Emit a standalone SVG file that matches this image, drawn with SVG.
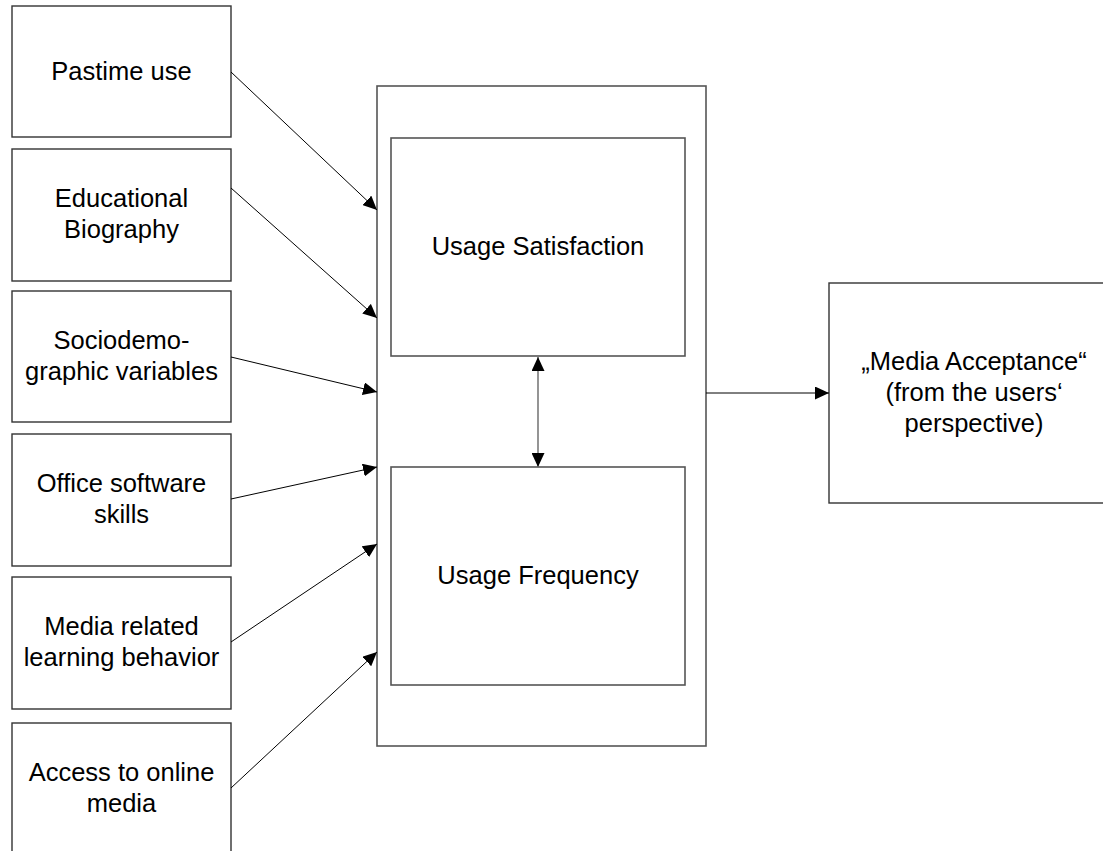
<svg xmlns="http://www.w3.org/2000/svg" width="1103" height="851" viewBox="0 0 1103 851">
  <style>
    .box { fill: #ffffff; stroke: #333333; stroke-width: 1.4; }
    .frame { fill: #ffffff; stroke: #555555; stroke-width: 1.6; }
    .label { font-family: "Liberation Sans", Arial, sans-serif; font-size: 25.5px; fill: #000000; text-anchor: middle; }
    .link { fill: none; stroke: #000000; stroke-width: 1; }
    .link-gray { fill: none; stroke: #7a7a7a; stroke-width: 1.6; }
  </style>
  <defs>
    <marker id="arrow" viewBox="0 0 14 13" refX="14" refY="6.5" markerWidth="14" markerHeight="13" markerUnits="userSpaceOnUse" orient="auto-start-reverse">
      <path d="M0,0 L14,6.5 L0,13 Z" fill="#000000"/>
    </marker>
  </defs>

  <rect width="1103" height="851" fill="#ffffff"/>

  <!-- Influencing factors (left column) -->
  <g id="pastime-use">
    <rect class="box" x="12" y="6" width="219" height="131"/>
    <text class="label" x="121.5" y="80">Pastime use</text>
  </g>
  <g id="educational-biography">
    <rect class="box" x="12" y="149" width="219" height="132"/>
    <text class="label" x="121.5" y="207">Educational</text>
    <text class="label" x="121.5" y="238">Biography</text>
  </g>
  <g id="sociodemographic-variables">
    <rect class="box" x="12" y="291" width="219" height="131"/>
    <text class="label" x="121.5" y="349">Sociodemo-</text>
    <text class="label" x="121.5" y="380">graphic variables</text>
  </g>
  <g id="office-software-skills">
    <rect class="box" x="12" y="434" width="219" height="132"/>
    <text class="label" x="121.5" y="492">Office software</text>
    <text class="label" x="121.5" y="523">skills</text>
  </g>
  <g id="media-learning-behavior">
    <rect class="box" x="12" y="577" width="219" height="132"/>
    <text class="label" x="121.5" y="635">Media related</text>
    <text class="label" x="121.5" y="666">learning behavior</text>
  </g>
  <g id="access-online-media">
    <rect class="box" x="12" y="723" width="219" height="140"/>
    <text class="label" x="121.5" y="781">Access to online</text>
    <text class="label" x="121.5" y="812">media</text>
  </g>

  <!-- Usage container with its two components -->
  <g id="usage">
    <rect class="frame" x="377" y="86" width="329" height="660"/>
  </g>
  <g id="usage-satisfaction">
    <rect class="frame" x="391" y="138" width="294" height="218"/>
    <text class="label" x="538" y="255">Usage Satisfaction</text>
  </g>
  <g id="usage-frequency">
    <rect class="frame" x="391" y="467" width="294" height="218"/>
    <text class="label" x="538" y="584">Usage Frequency</text>
  </g>

  <!-- Outcome -->
  <g id="media-acceptance">
    <rect class="box" x="829" y="283" width="290" height="220"/>
    <text class="label" x="974" y="370">„Media Acceptance“</text>
    <text class="label" x="974" y="401">(from the users‘</text>
    <text class="label" x="974" y="432">perspective)</text>
  </g>

  <!-- Connectors -->
  <g id="connectors">
    <line class="link" x1="231" y1="72" x2="377" y2="210" marker-end="url(#arrow)"/>
    <line class="link" x1="231" y1="188" x2="377" y2="318" marker-end="url(#arrow)"/>
    <line class="link" x1="231" y1="357" x2="377" y2="392" marker-end="url(#arrow)"/>
    <line class="link" x1="231" y1="499" x2="377" y2="467" marker-end="url(#arrow)"/>
    <line class="link" x1="231" y1="642" x2="377" y2="544" marker-end="url(#arrow)"/>
    <line class="link" x1="231" y1="788" x2="377" y2="652" marker-end="url(#arrow)"/>
    <line class="link-gray" x1="538" y1="357" x2="538" y2="467" marker-start="url(#arrow)" marker-end="url(#arrow)"/>
    <line class="link" x1="706" y1="393" x2="829" y2="393" marker-end="url(#arrow)"/>
  </g>
</svg>
